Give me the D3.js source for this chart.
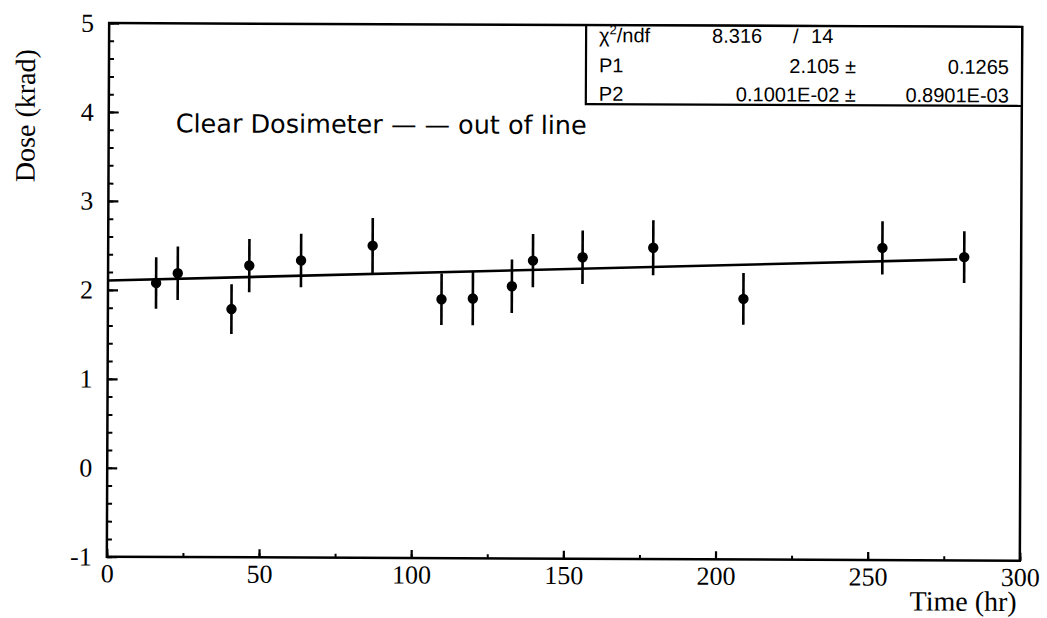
<!DOCTYPE html>
<html>
<head>
<meta charset="utf-8">
<script src="https://cdn.jsdelivr.net/npm/d3@7"></script>
<style>
  body { margin: 0; background: #fff; }
  svg { display: block; }
</style>
</head>
<body>
<svg width="1047" height="618"></svg>
<script>
// измерения дозиметра: время (ч), доза (крад), ошибка
const times  = [15.8, 22.9, 40.6, 46.4, 63.4, 86.9, 109.6, 119.9, 132.7, 139.6, 155.9, 179.1, 208.8, 254.4, 281.3];
const doses  = [2.08, 2.19, 1.79, 2.28, 2.34, 2.51, 1.91, 1.92, 2.06, 2.35, 2.39, 2.50, 1.93, 2.51, 2.41];
const errors = [0.29, 0.30, 0.28, 0.30, 0.30, 0.31, 0.29, 0.30, 0.30, 0.30, 0.30, 0.31, 0.29, 0.30, 0.29];

// параметры линейной подгонки
const p1 = 2.105;
const p2 = 0.1001e-02;
const fitRange = [0, 279];

// тики осей
const xTicks = [0, 50, 100, 150, 200, 250, 300];
const yTicks = [-1, 0, 1, 2, 3, 4, 5];

// строки статистического окна
const statRows = [
  {name: "P1", value: "2.105 \u00b1", error: "0.1265"},
  {name: "P2", value: "0.1001E-02 \u00b1", error: "0.8901E-03"}
];

const svg = d3.select("svg");

let area = { left: 108, right: 1021, top: 25, bottom: 558.7 };

let scX = d3.scaleLinear().domain([0, 300]).range([area.left, area.right]);
let scY = d3.scaleLinear().domain([-1, 5]).range([area.bottom, area.top]);

// скан слегка повернут
let g = svg.append("g").attr("transform", "rotate(0.25, 565, 290)");

const serif = "'Liberation Serif', 'Times New Roman', serif";
const sans = "'DejaVu Sans', sans-serif";

// оси: мелкие тики
g.append("g")
  .attr("transform", `translate(${area.left},0)`)
  .call(d3.axisLeft(scY).tickValues(d3.range(-1, 5.01, 0.2)).tickSize(-5).tickFormat(""))
  .call(a => a.select(".domain").remove())
  .selectAll("line").attr("stroke-width", 2);

g.append("g")
  .attr("transform", `translate(0,${area.bottom})`)
  .call(d3.axisBottom(scX).tickValues(d3.range(0, 301, 25)).tickSize(-4).tickFormat(""))
  .call(a => a.select(".domain").remove())
  .selectAll("line").attr("stroke-width", 2);

// оси: крупные тики с подписями
let ay = g.append("g")
  .attr("transform", `translate(${area.left},0)`)
  .call(d3.axisLeft(scY).tickValues(yTicks).tickSize(-10).tickPadding(15).tickFormat(d => String(d)));
ay.select(".domain").remove();
ay.selectAll("line").attr("stroke-width", 2.2);
ay.selectAll("text").style("font-family", serif).style("font-size", "26px").attr("fill", "#000");

let ax = g.append("g")
  .attr("transform", `translate(0,${area.bottom})`)
  .call(d3.axisBottom(scX).tickValues(xTicks).tickSize(-8).tickPadding(7).tickFormat(d => String(d)));
ax.select(".domain").remove();
ax.selectAll("line").attr("stroke-width", 2.2);
ax.selectAll("text").style("font-family", serif).style("font-size", "26px").attr("fill", "#000");

// рамка
g.append("rect")
  .attr("x", area.left).attr("y", area.top)
  .attr("width", area.right - area.left).attr("height", area.bottom - area.top)
  .attr("fill", "none").attr("stroke", "#000").attr("stroke-width", 2.5);

// подписи осей
g.append("text")
  .attr("transform", `translate(34, 118) rotate(-90)`)
  .attr("text-anchor", "middle")
  .style("font-family", serif).style("font-size", "28px")
  .text("Dose (krad)");

g.append("text")
  .attr("x", area.right - 3).attr("y", 609)
  .attr("text-anchor", "end")
  .style("font-family", serif).style("font-size", "28px")
  .text("Time (hr)");

// линия подгонки
let line = d3.line().x(d => scX(d)).y(d => scY(p1 + p2 * d));
g.append("path")
  .attr("d", line(fitRange))
  .attr("fill", "none").attr("stroke", "#000").attr("stroke-width", 2.6);

// ошибки
let pts = times.map((t, i) => ({t: t, v: doses[i], e: errors[i]}));

g.selectAll(".err")
  .data(pts)
  .enter()
  .append("line")
  .attr("x1", d => scX(d.t)).attr("x2", d => scX(d.t))
  .attr("y1", d => scY(d.v - d.e)).attr("y2", d => scY(d.v + d.e))
  .attr("stroke", "#000").attr("stroke-width", 2.6);

g.selectAll(".dot")
  .data(pts)
  .enter()
  .append("circle")
  .attr("cx", d => scX(d.t)).attr("cy", d => scY(d.v))
  .attr("r", 5.2)
  .attr("fill", "#000");

// надпись
g.append("text")
  .attr("x", 175).attr("y", 134)
  .style("font-family", sans).style("font-size", "25.5px")
  .text("Clear Dosimeter \u2014 \u2014 out of line");

// окно статистики
let box = { left: 585, top: area.top, right: area.right, bottom: 104 };
g.append("rect")
  .attr("x", box.left).attr("y", box.top)
  .attr("width", box.right - box.left).attr("height", box.bottom - box.top)
  .attr("fill", "#fff").attr("stroke", "#000").attr("stroke-width", 2.2);

let st = g.append("g").style("font-family", "'Liberation Sans', Arial, sans-serif").style("font-size", "20px");

let chi = st.append("text").attr("x", 598).attr("y", 42);
chi.append("tspan").text("\u03c7");
chi.append("tspan").attr("dy", -8).style("font-size", "13px").text("2");
chi.append("tspan").attr("dy", 8).text("/ndf");

st.append("text").attr("x", 711).attr("y", 42).text("8.316");
st.append("text").attr("x", 792).attr("y", 42).text("/");
st.append("text").attr("x", 810).attr("y", 42).text("14");

st.selectAll(".row")
  .data(statRows)
  .enter()
  .append("g")
  .each(function(d, i) {
    let y = 72 + i * 28.5;
    let r = d3.select(this);
    r.append("text").attr("x", 598).attr("y", y).text(d.name);
    r.append("text").attr("x", 855).attr("y", y).attr("text-anchor", "end").text(d.value);
    r.append("text").attr("x", 1008).attr("y", y).attr("text-anchor", "end").text(d.error);
  });
</script>
</body>
</html>
